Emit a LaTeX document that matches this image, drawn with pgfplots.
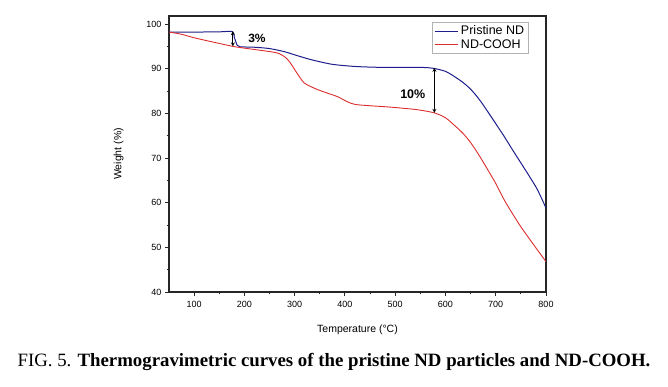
\documentclass[border=0pt]{standalone}
\usepackage{pgfplots}
\pgfplotsset{compat=1.18}
\usepackage{fontspec}
\setmainfont{Liberation Sans}
\newfontfamily\capfont{Liberation Serif}
\definecolor{tgablue}{RGB}{30,30,140}
\definecolor{tgared}{RGB}{220,45,45}
\begin{document}
\begin{tikzpicture}[x=1pt,y=1pt]
\useasboundingbox (0,0) rectangle (668,387);
\begin{axis}[
  at={(169pt,95pt)}, anchor=south west,
  width=377pt, height=276pt, scale only axis,
  xmin=50, xmax=800, ymin=40, ymax=101.8,
  xtick={100,200,...,800}, ytick={40,50,...,100},
  minor x tick num=1, minor y tick num=1,
  xtick pos=bottom, ytick pos=left, tick align=outside,
  major tick length=4pt, minor tick length=2.5pt,
  axis line style={line width=1.3pt, black!85},
  every tick/.style={black!85, line width=0.9pt},
  /pgf/number format/assume math mode=true,
  tick label style={font=\fontsize{9}{10}\selectfont},
  xticklabel style={yshift=-2pt},
  xlabel={Temperature (°C)}, ylabel={Weight (\%)},
  label style={font=\fontsize{10.5}{12}\selectfont},
  xlabel style={yshift=-10pt},
  ylabel style={yshift=16pt},
  legend style={at={(0.952,0.978)}, anchor=north east, draw=black!30,
    font=\fontsize{12.5}{15}\selectfont, inner sep=1.5pt, row sep=-1pt},
  legend image post style={xscale=1.4},
  legend cell align=left,
]
\addplot[tgablue, line width=1.0pt, smooth] coordinates {
(50,98.2) (100,98.2) (150,98.25) (176,98.3) (180,97.0) (186,95.2) (192,94.9)
(220,94.8) (250,94.5) (280,93.8) (300,93.1) (330,92.1) (360,91.3) (380,90.9)
(420,90.5) (470,90.3) (520,90.3) (550,90.3) (575,90.1) (600,89.4) (617,88.3)
(635,86.9) (651,85.3) (668,83.0) (684,80.4) (700,77.7) (717,74.8) (733,71.9)
(750,68.9) (767,65.9) (783,62.9) (800,58.8)};
\addlegendentry{Pristine ND}
\addplot[tgared, line width=0.9pt, smooth] coordinates {
(50,98.2) (75,97.7) (101,96.9) (140,95.9) (177,95.0) (200,94.6) (233,94.1)
(266,93.5) (283,92.4) (292,91.2) (300,89.8) (310,88.1) (319,86.8) (332,86.0)
(346,85.3) (366,84.5) (386,83.7) (405,82.6) (420,82.0) (450,81.7) (478,81.5)
(510,81.2) (545,80.8) (578,80.1) (600,79.0) (617,77.4) (635,75.5) (651,73.3)
(668,70.4) (684,67.4) (700,64.3) (717,60.6) (733,57.6) (750,54.6) (767,51.9)
(783,49.4) (800,46.8)};
\addlegendentry{ND-COOH}
\draw[<->, >=stealth, line width=0.8pt, black] (axis cs:177,98.4) -- (axis cs:177,95.0);
\draw[<->, >=stealth, line width=0.8pt, black] (axis cs:578,90.2) -- (axis cs:578,80.1);
\node[font=\bfseries\fontsize{12}{14}\selectfont] at (axis cs:225,96.8) {3\%};
\node[font=\bfseries\fontsize{12.5}{14}\selectfont] at (axis cs:535,84.4) {10\%};
\end{axis}
\node at (334,25) {\capfont\fontsize{18.8}{22}\selectfont FIG. 5. \textbf{Thermogravimetric curves of the pristine ND particles and ND-COOH.}};
\end{tikzpicture}
\end{document}
